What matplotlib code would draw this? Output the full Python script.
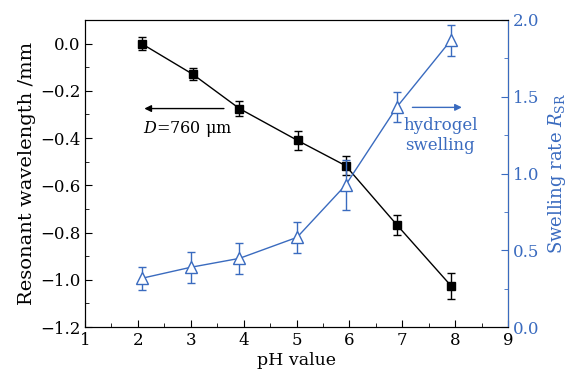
import numpy as np
import matplotlib
matplotlib.use('Agg')
import matplotlib.pyplot as plt
from matplotlib.ticker import MultipleLocator

plt.rcParams['font.family'] = ['DejaVu Serif']
plt.rcParams['mathtext.fontset'] = 'dejavuserif'

# resonant wavelength shift (left axis)
ph = [2.07, 3.04, 3.92, 5.02, 5.93, 6.90, 7.92]
shift = [0.0, -0.13, -0.275, -0.41, -0.517, -0.768, -1.025]
shift_err = [0.028, 0.025, 0.03, 0.04, 0.04, 0.042, 0.055]

# swelling rate (right axis)
ph_sr = [2.07, 3.0, 3.92, 5.01, 5.93, 6.90, 7.92]
swell = [0.317, 0.389, 0.447, 0.584, 0.925, 1.434, 1.868]
swell_err = [0.077, 0.1, 0.1, 0.1, 0.16, 0.1, 0.1]

blue = '#3a6bbf'

fig = plt.figure(figsize=(5.69, 3.81), dpi=100)
ax = fig.add_axes([85/569, 1-327/381, (508-85)/569, (327-20)/381])
ax2 = ax.twinx()

ax.errorbar(ph, shift, yerr=shift_err, fmt='s-', color='black', ms=6,
            capsize=3, elinewidth=1, lw=1, zorder=3)
ax2.errorbar(ph_sr, swell, yerr=swell_err, fmt='^-', color=blue, mfc='white',
             mec=blue, ms=8, capsize=3, elinewidth=1, lw=1)

ax.set_xlim(1, 9)
ax.set_ylim(-1.2, 0.1)
ax2.set_ylim(0, 2.0)
ax.xaxis.set_major_locator(MultipleLocator(1))
ax.xaxis.set_minor_locator(MultipleLocator(0.5))
ax.yaxis.set_major_locator(MultipleLocator(0.2))
ax.yaxis.set_minor_locator(MultipleLocator(0.1))
ax2.yaxis.set_major_locator(MultipleLocator(0.5))
ax2.yaxis.set_minor_locator(MultipleLocator(0.25))
ax.yaxis.set_major_formatter(plt.FuncFormatter(lambda v, p: f'{v:.1f}'.replace('-', '\u2212')))
ax2.yaxis.set_major_formatter(plt.FuncFormatter(lambda v, p: f'{v:.1f}'))

ax.tick_params(which='both', direction='in', top=False, right=False, labelsize=12)
ax.tick_params(which='major', length=5)
ax.tick_params(which='minor', length=3)
ax2.tick_params(which='both', direction='in', colors=blue, labelsize=12)
ax2.tick_params(which='major', length=5)
ax2.tick_params(which='minor', length=3)
ax2.spines['right'].set_color(blue)

ax.set_xlabel('pH value', fontsize=12.5, labelpad=2)
ax.set_ylabel('Resonant wavelength /mm', fontsize=14, labelpad=3)
ax2.set_ylabel(r'Swelling rate $R_{\mathrm{SR}}$', fontsize=13, color=blue, labelpad=5)

ax.annotate('', xy=(2.07, -0.275), xytext=(3.68, -0.275),
            arrowprops=dict(arrowstyle='-|>', color='black', lw=1, mutation_scale=10))
ax.text(2.1, -0.36, r'$D$=760 $\mathrm{\mu}$m', fontsize=11.5, va='center')
ax.annotate('', xy=(8.18, -0.27), xytext=(7.14, -0.27),
            arrowprops=dict(arrowstyle='-|>', color=blue, lw=1, mutation_scale=10))
ax.text(7.72, -0.39, 'hydrogel\nswelling', fontsize=12, color=blue,
        ha='center', va='center', linespacing=1.2)

fig.savefig('out.png', dpi=100)
